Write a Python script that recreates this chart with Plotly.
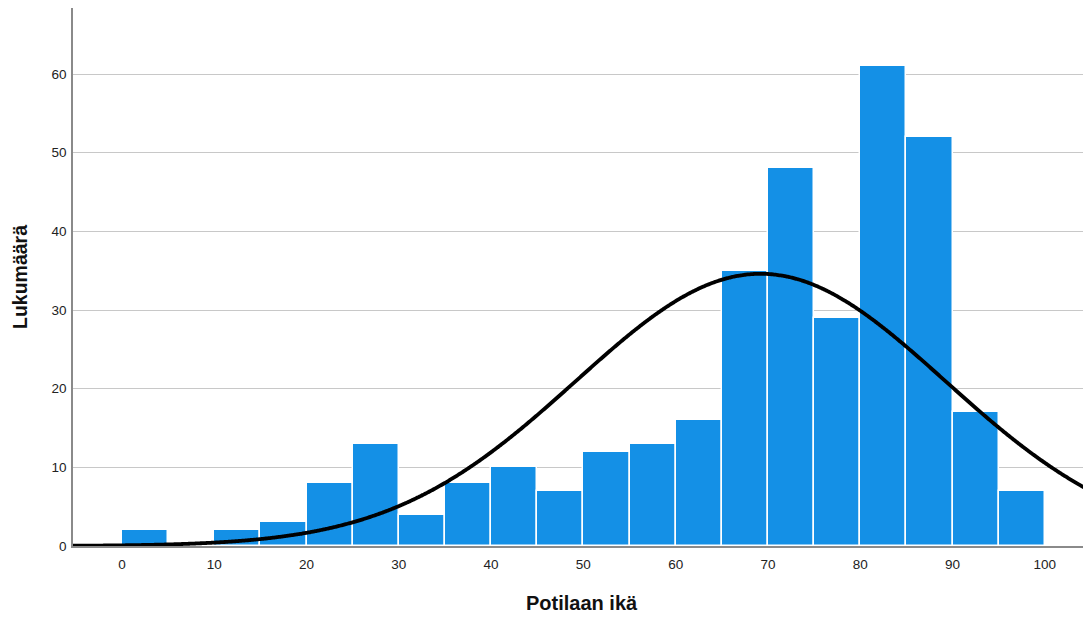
import numpy as np
import plotly.graph_objects as go

bin_starts = [0, 5, 10, 15, 20, 25, 30, 35, 40, 45, 50, 55, 60, 65, 70, 75, 80, 85, 90, 95]
counts = [2, 0, 2, 3, 8, 13, 4, 8, 10, 7, 12, 13, 16, 35, 48, 29, 61, 52, 17, 7]
bin_width = 5
x_ticks = [0, 10, 20, 30, 40, 50, 60, 70, 80, 90, 100]
y_ticks = [0, 10, 20, 30, 40, 50, 60]

# fitted normal curve parameters
mean_age = 69.2
sd_age = 20.0

n_total = sum(counts)
mids = [s + bin_width / 2 for s in bin_starts]

xs = np.linspace(-5.3, 105.0, 600)
ys = n_total * bin_width / (sd_age * np.sqrt(2 * np.pi)) * np.exp(-0.5 * ((xs - mean_age) / sd_age) ** 2)

fig = go.Figure()
fig.add_trace(go.Bar(
    x=mids, y=counts, width=bin_width,
    marker=dict(color="#1490e6", line=dict(color="#ffffff", width=1.5)),
    showlegend=False, hoverinfo="x+y",
))
fig.add_trace(go.Scatter(
    x=xs, y=ys, mode="lines",
    line=dict(color="#000000", width=3.8, shape="spline"),
    showlegend=False,
))

# page body has an 8px default margin, so the figure is sized to fit the window
fig.update_layout(
    width=1083, height=609,
    margin=dict(l=65, r=0, t=0, b=71, pad=0),
    paper_bgcolor="white", plot_bgcolor="white",
    font=dict(family="Liberation Sans, Arial, sans-serif", color="#222222", size=12),
    bargap=0,
    xaxis=dict(
        range=[-5.3, 105.0], tickvals=x_ticks, showgrid=False, zeroline=False,
        showline=True, linecolor="#8a8a8a", linewidth=1.5, ticks="", automargin=False,
        tickfont=dict(size=13.5), ticklabelstandoff=5,
    ),
    yaxis=dict(
        range=[0, 68.4], tickvals=y_ticks, showgrid=True, gridcolor="#c8c8c8", gridwidth=1.2,
        zeroline=False, showline=True, linecolor="#8a8a8a", linewidth=1.5, ticks="", automargin=False,
        tickfont=dict(size=13.5), ticklabelstandoff=2,
    ),
    annotations=[
        dict(text="<b>Potilaan ikä</b>", xref="paper", yref="paper", x=0.5, y=0,
             yshift=-57, xanchor="center", yanchor="middle", showarrow=False,
             font=dict(size=20, color="#111111")),
        dict(text="<b>Lukumäärä</b>", xref="paper", yref="paper", x=0, y=0.5,
             xshift=-53, xanchor="center", yanchor="middle", showarrow=False, textangle=-90,
             font=dict(size=19.5, color="#111111")),
    ],
)

fig.write_html("out.html")
